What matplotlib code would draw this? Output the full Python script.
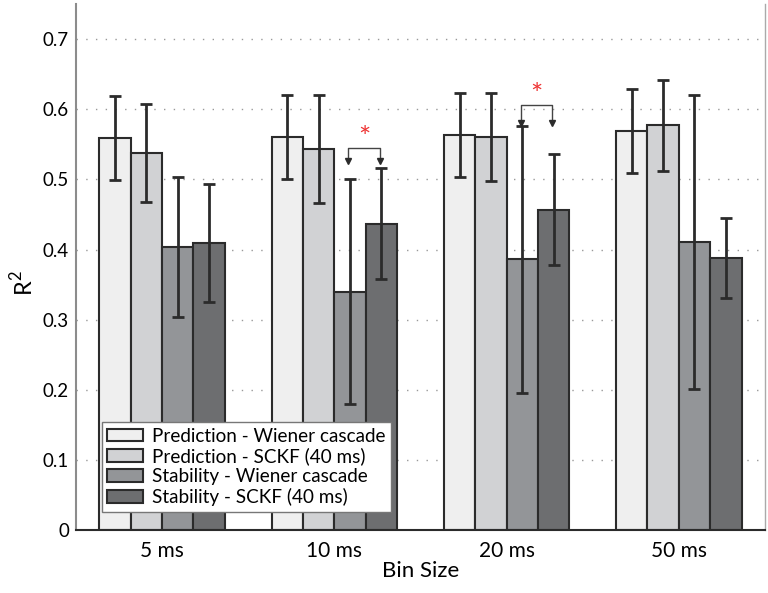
import numpy as np
import matplotlib
matplotlib.use('Agg')
import matplotlib.pyplot as plt

plt.rcParams['font.family'] = ['Lato', 'DejaVu Sans']
plt.rcParams['mathtext.fontset'] = 'custom'
plt.rcParams['mathtext.rm'] = 'Lato'

bin_sizes = ['5 ms', '10 ms', '20 ms', '50 ms']
series_names = ['Prediction - Wiener cascade', 'Prediction - SCKF (40 ms)',
                'Stability - Wiener cascade', 'Stability - SCKF (40 ms)']

pred_wiener = [0.559, 0.560, 0.563, 0.569]
pred_wiener_err = [0.060, 0.060, 0.060, 0.060]
pred_sckf = [0.538, 0.544, 0.561, 0.577]
pred_sckf_err = [0.070, 0.077, 0.063, 0.065]
stab_wiener = [0.404, 0.340, 0.386, 0.411]
stab_wiener_err = [0.100, 0.160, 0.190, 0.210]
stab_sckf = [0.410, 0.437, 0.457, 0.388]
stab_sckf_err = [0.084, 0.079, 0.079, 0.057]

# significant stability differences: (bin index, bracket top, arrow tip)
sig_bins = [1, 2]
sig_top = [0.545, 0.606]
sig_tip = [0.526, 0.580]

colors = ['#efefef', '#d1d2d4', '#939598', '#6d6e70']
means = [pred_wiener, pred_sckf, stab_wiener, stab_sckf]
errs = [pred_wiener_err, pred_sckf_err, stab_wiener_err, stab_sckf_err]

fig = plt.figure(figsize=(7.68, 5.93), dpi=100)
ax = fig.add_axes([0.099, 0.106, 0.897, 0.887])

x = np.arange(1, len(bin_sizes) + 1)
width = 0.182
for i in range(4):
    xi = x + (i - 1.5) * width
    ax.bar(xi, means[i], width, color=colors[i], edgecolor='#2b2b2b',
           linewidth=1.5, label=series_names[i], zorder=2)
    ax.errorbar(xi, means[i], yerr=errs[i], fmt='none', ecolor='#2b2b2b',
                elinewidth=2, capsize=4, capthick=2, zorder=3)

# brackets between the two stability bars
for b, top, tip in zip(sig_bins, sig_top, sig_tip):
    x1 = x[b] + 0.5 * width - 0.01
    x2 = x[b] + 1.5 * width - 0.01
    ax.plot([x1, x1, x2, x2], [tip, top, top, tip], color='#444444',
            lw=1, zorder=4)
    ax.plot([x1, x2], [tip, tip], 'v', color='#2b2b2b', ms=5, zorder=4)
    ax.text((x1 + x2) / 2, top - 0.006, '*', color='#ee3333', ha='center',
            va='bottom', fontsize=21, zorder=4)

ax.set_xlim(0.5, 4.5)
ax.set_ylim(0, 0.75)
ax.set_xticks(x)
ax.set_xticklabels(bin_sizes, fontsize=15)
ax.set_yticks(np.arange(0, 0.71, 0.1))
ax.set_yticklabels(['0', '0.1', '0.2', '0.3', '0.4', '0.5', '0.6', '0.7'],
                   fontsize=13.5)
ax.tick_params(length=0)
ax.tick_params(axis='x', pad=8)
ax.tick_params(axis='y', pad=5)
ax.yaxis.grid(True, linestyle=(0, (1, 6)), color='#999999', lw=1, zorder=0)
ax.set_axisbelow(True)

ax.spines['top'].set_visible(False)
ax.spines['left'].set_color('#8c8c8c')
ax.spines['left'].set_linewidth(1.5)
ax.spines['right'].set_color('#aaaaaa')
ax.spines['right'].set_linewidth(1)
ax.spines['bottom'].set_color('#2b2b2b')
ax.spines['bottom'].set_linewidth(1.5)

ax.set_xlabel('Bin Size', fontsize=16, labelpad=0)
ax.set_ylabel(r'$\mathrm{R}^2$', fontsize=17)
ax.yaxis.set_label_coords(-0.057, 0.47)

leg = ax.legend(loc='lower left', bbox_to_anchor=(0.037, 0.035),
                borderaxespad=0, fontsize=13.6, fancybox=False, framealpha=1,
                edgecolor='#777777', handlelength=1.9, handleheight=0.65,
                labelspacing=0.15, handletextpad=0.45, borderpad=0.3)
leg.get_frame().set_linewidth(1)

fig.savefig('out.png', dpi=100)
